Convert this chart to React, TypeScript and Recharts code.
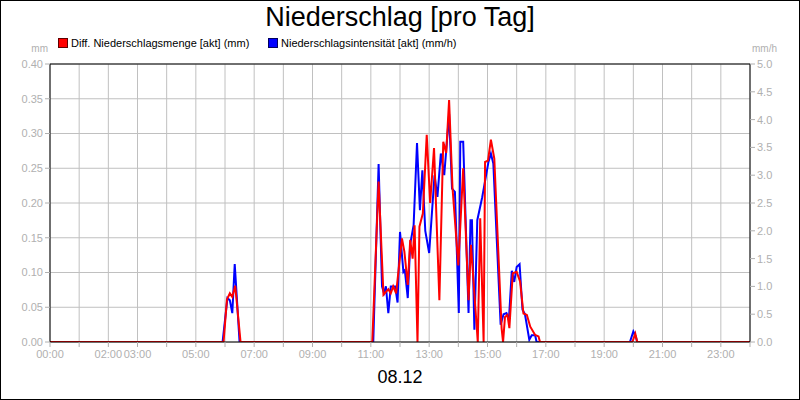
import React from "react"
import { CartesianGrid, Line, LineChart, ReferenceLine, XAxis, YAxis } from "recharts"

// Diff. Niederschlagsmenge [akt] (mm) - left axis
const redTimes = [
  "00:00", "05:57", "06:04", "06:10", "06:15", "06:21", "06:32",
  "11:03", "11:16", "11:26", "11:36", "11:41", "11:46", "11:52", "12:04", "12:09",
  "12:16", "12:21", "12:26", "12:30", "12:36", "12:40", "12:47", "12:55", "13:02",
  "13:10", "13:21", "13:29", "13:35", "13:41", "13:48", "14:00", "14:10", "14:21",
  "14:26", "14:40", "14:45", "14:52", "14:55", "15:01", "15:07", "15:14", "15:29",
  "15:32", "15:36", "15:41", "15:45", "15:52", "16:00", "16:07", "16:14", "16:21",
  "16:28", "16:38", "16:45", "16:48",
  "19:58", "20:04", "20:08", "24:00",
]
const redValues = [
  0, 0, 0.061, 0.07, 0.065, 0.081, 0,
  0, 0.231, 0.068, 0.076, 0.07, 0.08, 0.07, 0.149, 0.13,
  0.082, 0.147, 0.12, 0.168, 0, 0.166, 0.185, 0.298, 0.2,
  0.279, 0.06, 0.288, 0.272, 0.348, 0.222, 0.11, 0.25, 0.06,
  0.14, 0, 0.178, 0, 0.259, 0.261, 0.291, 0.264, 0.02,
  0, 0.036, 0.039, 0.02, 0.099, 0.101, 0.087, 0.041, 0.039,
  0.022, 0.01, 0.008, 0,
  0, 0.012, 0, 0,
]

// Niederschlagsintensität [akt] (mm/h) - right axis
const blueTimes = [
  "00:00", "05:55", "06:05", "06:10", "06:15", "06:20", "06:30",
  "11:05", "11:16", "11:23", "11:27", "11:31", "11:36", "11:41", "11:50", "11:55",
  "12:00", "12:07", "12:10", "12:16", "12:21", "12:28", "12:35", "12:41", "12:46",
  "12:52", "13:00", "13:11", "13:17", "13:24", "13:31", "13:41", "13:47", "13:53",
  "14:01", "14:04", "14:10", "14:21", "14:25", "14:28", "14:33", "14:39", "14:49",
  "15:02", "15:07", "15:12", "15:27", "15:33", "15:39", "15:44", "15:50", "15:55",
  "16:00", "16:06", "16:12", "16:17", "16:26", "16:31", "16:38", "16:41",
  "19:53", "20:00", "20:05", "20:08", "24:00",
]
const blueValues = [
  0, 0, 0.79, 0.75, 0.52, 1.4, 0,
  0, 3.2, 1.0, 0.88, 1.0, 0.52, 1.0, 1.0, 0.71,
  1.98, 1.26, 1.29, 0.79, 1.76, 2.1, 3.58, 2.37, 3.09,
  2.0, 1.6, 3.0, 2.61, 3.39, 3.0, 4.1, 2.76, 2.7,
  0.52, 3.6, 3.6, 0.52, 2.19, 2.19, 0.22, 2.19, 2.6,
  3.24, 3.39, 3.21, 0.31, 0.5, 0.52, 0.4, 1.28, 1.08,
  1.35, 1.4, 0.58, 0.5, 0.04, 0.12, 0.12, 0,
  0, 0.19, 0.1, 0, 0,
]

const xTickLabels = ["00:00", "02:00", "03:00", "05:00", "07:00", "09:00", "11:00", "13:00", "15:00", "17:00", "19:00", "21:00", "23:00"]
const leftTicks = [0, 0.05, 0.1, 0.15, 0.2, 0.25, 0.3, 0.35, 0.4]
const rightTicks = [0, 0.5, 1, 1.5, 2, 2.5, 3, 3.5, 4, 4.5, 5]

const hourTicks = Array.from({ length: 25 }, (_, i) => i)

const toHours = (s: string) => {
  const [h, m] = s.split(":").map(Number)
  return h + m / 60
}

const rows = [
  ...redTimes.map((t, i) => ({ t: toHours(t), red: redValues[i] })),
  ...blueTimes.map((t, i) => ({ t: toHours(t), blue: blueValues[i] })),
].sort((a, b) => a.t - b.t)

const hourLabel = (h: number) => {
  const s = `${String(h).padStart(2, "0")}:00`
  return xTickLabels.includes(s) ? s : ""
}

const font = "'Liberation Sans', Arial, sans-serif"
const gray = "#b0b0b0"
const tickStyle = { fill: gray, fontSize: 11, fontFamily: font }

function LegendBox({ color, border }: { color: string; border: string }) {
  return (
    <span
      style={{
        display: "inline-block",
        width: 8,
        height: 8,
        background: color,
        border: `1px solid ${border}`,
        marginRight: 3,
        verticalAlign: "-1px",
      }}
    />
  )
}

export default function App() {
  return (
    <div
      style={{
        position: "fixed",
        left: 0,
        top: 0,
        width: 800,
        height: 400,
        background: "#fff",
        fontFamily: font,
        overflow: "hidden",
      }}
    >
      <div style={{ position: "absolute", top: 4, left: 0, width: 800, textAlign: "center", fontSize: 27, lineHeight: "27px" }}>
        Niederschlag [pro Tag]
      </div>

      <div style={{ position: "absolute", top: 38, left: 58, fontSize: 11, lineHeight: "11px", whiteSpace: "nowrap" }}>
        <LegendBox color="#ff0000" border="#600000" />
        Diff. Niederschlagsmenge [akt] (mm)
      </div>
      <div style={{ position: "absolute", top: 38, left: 268, fontSize: 11, lineHeight: "11px", whiteSpace: "nowrap" }}>
        <LegendBox color="#0000ff" border="#000060" />
        Niederschlagsintensität [akt] (mm/h)
      </div>

      <div style={{ position: "absolute", top: 44, right: 752, fontSize: 10, lineHeight: "10px", color: gray }}>mm</div>
      <div style={{ position: "absolute", top: 44, left: 752, fontSize: 10, lineHeight: "10px", color: gray }}>mm/h</div>

      <LineChart width={800} height={400} data={rows} margin={{ top: 64, right: 0, bottom: 28, left: 0 }}>
        <CartesianGrid stroke="#c0c0c0" strokeWidth={1} />
        <XAxis
          dataKey="t"
          type="number"
          domain={[0, 24]}
          ticks={hourTicks}
          interval={0}
          tickFormatter={hourLabel}
          tick={tickStyle}
          tickSize={5}
          tickMargin={3}
          tickLine={{ stroke: gray }}
          axisLine={{ stroke: "#000" }}
          height={30}
          allowDataOverflow
        />
        <YAxis
          domain={[0, 0.4]}
          ticks={leftTicks}
          interval={0}
          tickFormatter={(v: number) => v.toFixed(2)}
          tick={tickStyle}
          tickSize={5}
          tickLine={{ stroke: gray }}
          axisLine={{ stroke: "#000" }}
          width={50}
          allowDataOverflow
        />
        <YAxis
          yAxisId="right"
          orientation="right"
          domain={[0, 5]}
          ticks={rightTicks}
          interval={0}
          tickFormatter={(v: number) => v.toFixed(1)}
          tick={tickStyle}
          tickSize={5}
          tickLine={{ stroke: gray }}
          axisLine={{ stroke: "#000" }}
          width={50}
          allowDataOverflow
        />
        <ReferenceLine y={0.4} stroke="#000" />
        <Line
          yAxisId="right"
          type="linear"
          dataKey="blue"
          stroke="#0000ff"
          strokeWidth={2}
          dot={false}
          connectNulls
          isAnimationActive={false}
        />
        <Line
          type="linear"
          dataKey="red"
          stroke="#ff0000"
          strokeWidth={2}
          dot={false}
          connectNulls
          isAnimationActive={false}
        />
      </LineChart>

      <div style={{ position: "absolute", top: 368, left: 0, width: 800, textAlign: "center", fontSize: 18, lineHeight: "18px" }}>
        08.12
      </div>

      <div
        style={{
          position: "absolute",
          left: 0,
          top: 0,
          width: 800,
          height: 400,
          border: "1px solid #000",
          boxSizing: "border-box",
          pointerEvents: "none",
        }}
      />
    </div>
  )
}
